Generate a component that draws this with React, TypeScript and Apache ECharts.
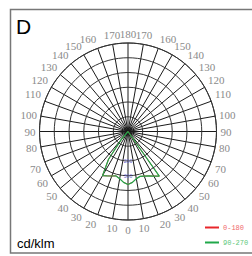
import React, { useEffect, useRef } from "react";
import * as echarts from "echarts";

// Signed angle from nadir (0 = straight down, + = right side, - = left side), degrees
const curveAngles = [-45, -40, -35, -30, -25, -20, -15, -10, -5, 0, 5, 10, 15, 20, 25, 30, 35, 40, 45];
// Luminous intensity (cd/klm)
const plane0_180 = [0, 68, 230, 346, 332, 321, 312, 325, 346, 359, 346, 325, 315, 322, 332, 349, 370, 0, 0];
const plane90_270 = [0, 68, 230, 346, 332, 321, 312, 325, 346, 359, 346, 325, 315, 322, 332, 349, 370, 0, 0];
const seriesNames = ["0-180", "90-270"];
const seriesColors = ["#e8262b", "#20a84a"];
const legendTextColors = ["#f06a6a", "#5cc77a"];
const radiusMax = 600;
const radiusStep = 100;
const radiusShownLabels = [200, 300];
const angleStep = 10;

const toAxisAngle = (a: number) => (a < 0 ? 360 + a : a);

export default function App() {
  const ref = useRef<HTMLDivElement>(null);
  useEffect(() => {
    if (!ref.current) return;
    const chart = echarts.init(ref.current, null, { renderer: "svg" });
    const mk = (vals: number[]) => curveAngles.map((a, i) => [vals[i], toAxisAngle(a)]);
    chart.setOption({
      animation: false,
      backgroundColor: "#ffffff",
      polar: { center: [128, 131.5], radius: 88.5 },
      angleAxis: {
        type: "value",
        min: 0,
        max: 360,
        interval: angleStep,
        startAngle: 270,
        clockwise: false,
        axisLine: { show: true, lineStyle: { color: "#333", width: 1 } },
        axisTick: { show: false },
        splitLine: { show: true, lineStyle: { color: "#1a1a1a", width: 1 } },
        axisLabel: {
          show: true,
          margin: 4,
          fontFamily: "'Liberation Serif', serif",
          fontSize: 11,
          color: "#8a8a8a",
          formatter: (v: number) => (v >= 360 ? "" : String(v <= 180 ? v : 360 - v)),
        },
      },
      radiusAxis: {
        type: "value",
        min: 0,
        max: radiusMax,
        interval: radiusStep,
        axisLine: { show: false },
        axisTick: { show: false },
        splitLine: { show: true, lineStyle: { color: "#333", width: 1 } },
        axisLabel: {
          show: true,
          margin: 0,
          align: "center",
          verticalAlign: "middle",
          fontSize: 5,
          color: "#6a6ad0",
          formatter: (v: number) => (radiusShownLabels.includes(v) ? String(v) : ""),
        },
        z: 10,
      },
      legend: {
        orient: "vertical",
        left: 200,
        top: 219,
        itemGap: 8,
        itemWidth: 14,
        itemHeight: 2,
        icon: "rect",
        data: seriesNames.map((n, i) => ({
          name: n,
          textStyle: { color: legendTextColors[i] },
        })),
        textStyle: { fontSize: 7, fontFamily: "'Liberation Mono', monospace", padding: [0, 0, 0, -1] },
      },
      graphic: [
        {
          type: "rect",
          shape: { x: 10.5, y: 9.5, width: 260, height: 243.5 },
          style: { fill: "none", stroke: "#777", lineWidth: 1.5 },
          silent: true,
        },
        {
          type: "text",
          x: 16,
          y: 16,
          style: { text: "D", font: "21px 'Liberation Sans'", fill: "#000" },
        },
        {
          type: "text",
          x: 17,
          y: 237,
          style: { text: "cd/klm", font: "13px 'Liberation Sans'", fill: "#000" },
        },
      ],
      series: [
        {
          name: seriesNames[0],
          type: "line",
          coordinateSystem: "polar",
          showSymbol: false,
          lineStyle: { color: seriesColors[0], width: 1 },
          itemStyle: { color: seriesColors[0] },
          data: mk(plane0_180),
          z: 3,
        },
        {
          name: seriesNames[1],
          type: "line",
          coordinateSystem: "polar",
          showSymbol: false,
          lineStyle: { color: seriesColors[1], width: 1.2 },
          itemStyle: { color: seriesColors[1] },
          data: mk(plane90_270),
          z: 4,
        },
      ],
    });
    return () => chart.dispose();
  }, []);
  return (
    <div
      ref={ref}
      style={{ position: "absolute", left: 0, top: 0, width: 252, height: 256 }}
    />
  );
}
